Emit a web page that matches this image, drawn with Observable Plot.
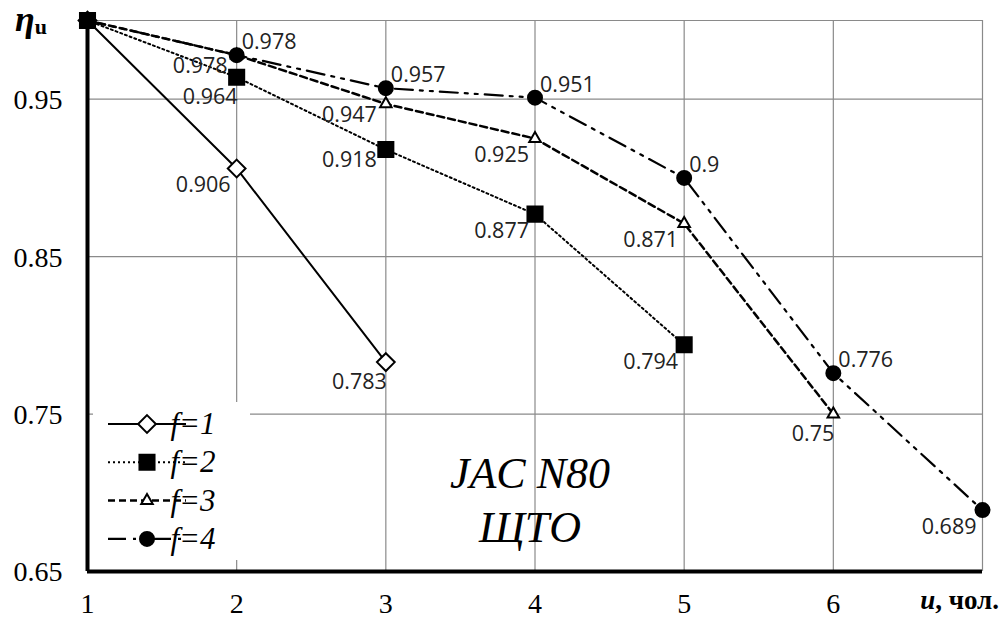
<!DOCTYPE html>
<html><head><meta charset="utf-8">
<script src="https://cdn.jsdelivr.net/npm/d3@7"></script>
<script src="https://cdn.jsdelivr.net/npm/@observablehq/plot@0.6"></script>
<style>body{margin:0;background:#fff} #chart{position:relative;width:1001px;height:619px}</style>
</head><body><div id="chart"></div>
<script>
// ---- data ----
const uValues = [1, 2, 3, 4, 5, 6, 7];
const f1 = [1, 0.906, 0.783];
const f2 = [1, 0.964, 0.918, 0.877, 0.794];
const f3 = [1, 0.978, 0.947, 0.925, 0.871, 0.75];
const f4 = [1, 0.978, 0.957, 0.951, 0.9, 0.776, 0.689];
const seriesNames = ["f=1", "f=2", "f=3", "f=4"];
const yTicks = [0.65, 0.75, 0.85, 0.95];
const yTickLabels = ["0.65", "0.75", "0.85", "0.95"];
const xTicks = [1, 2, 3, 4, 5, 6];
const xTickLabels = ["1", "2", "3", "4", "5", "6"];
const gridY = [0.75, 0.85, 0.95, 1.0];
const gridX = [2, 3, 4, 5, 6, 7];
// label placement class per point (null = no label)
const place1 = [null, "BL", "B"];
const place2 = [null, "B", "L", "BL", "BL"];
const place3 = [null, "L", "L", "BL", "BL", "B"];
const place4 = [null, "AR", "AR", "AR", "AR", "AR", "BL"];
const titleLines = ["JAC N80", "ЩТО"];

// ---- styles ----
const styles = {
  "f=1": {dash: null, width: 2, symbol: "diamond2", r: 8, fill: "white"},
  "f=2": {dash: "2,3", width: 2, symbol: "square", r: 8.5, fill: "black"},
  "f=3": {dash: "7,4", width: 2.5, symbol: "triangle2", r: 5.5, fill: "white"},
  "f=4": {dash: "18,7,3,7,3,7", width: 2.2, symbol: "circle", r: 7, fill: "black"}
};

const all = [f1, f2, f3, f4];
const places = [place1, place2, place3, place4];
const rows = [];
all.forEach((vals, i) => vals.forEach((v, j) => rows.push({u: uValues[j], eta: v, s: seriesNames[i], place: places[i][j]})));

const serif = "'Liberation Serif', 'Times New Roman', 'DejaVu Serif', serif";
const marks = [
  Plot.ruleY(gridY, {stroke: "#8a8a8a", strokeWidth: 1.2}),
  Plot.ruleX(gridX, {y1: 0.65, y2: 1.0, stroke: "#8a8a8a", strokeWidth: 1.2}),
];
for (const name of seriesNames) {
  const st = styles[name];
  const d = rows.filter(r => r.s === name);
  marks.push(Plot.line(d, {x: "u", y: "eta", stroke: "black", strokeWidth: st.width, strokeDasharray: st.dash}));
}
for (const name of seriesNames) {
  const st = styles[name];
  const d = rows.filter(r => r.s === name);
  marks.push(Plot.dot(d, {x: "u", y: "eta", symbol: () => st.symbol, r: st.r, fill: st.fill, stroke: "black", strokeWidth: 2}));
}
const labelFont = {fontFamily: "'Open Sans', sans-serif", fontSize: 21.5, fill: "#222"};
marks.push(
  Plot.text(rows.filter(r => r.place === "BL"), {x: "u", y: "eta", text: d => String(d.eta), textAnchor: "end", dx: -6, dy: 17, ...labelFont}),
  Plot.text(rows.filter(r => r.place === "B"), {x: "u", y: "eta", text: d => String(d.eta), textAnchor: "end", dx: 1, dy: 20, ...labelFont}),
  Plot.text(rows.filter(r => r.place === "L"), {x: "u", y: "eta", text: d => String(d.eta), textAnchor: "end", dx: -9, dy: 11, ...labelFont}),
  Plot.text(rows.filter(r => r.place === "AR"), {x: "u", y: "eta", text: d => String(d.eta), textAnchor: "start", dx: 5, dy: -13, ...labelFont}),
  Plot.ruleX([1], {y1: 0.65, y2: 1.0, stroke: "black", strokeWidth: 4}),
  Plot.ruleY([0.65], {x1: 1, x2: 7, stroke: "black", strokeWidth: 4}),
  Plot.text(xTicks, {x: d => d, y: 0.65, text: (d, i) => xTickLabels[i], dy: 33, fontFamily: serif, fontSize: 28, fill: "black"}),
  Plot.text(yTicks, {y: d => d, x: 1, text: (d, i) => yTickLabels[i], textAnchor: "end", dx: -25, dy: 1, fontFamily: serif, fontSize: 28, fill: "black"})
);

const chart = Plot.plot({
  width: 1001, height: 619,
  marginLeft: 87, marginRight: 19, marginTop: 20, marginBottom: 48,
  x: {domain: [1, 7], axis: null},
  y: {domain: [0.65, 1.0], axis: null},
  style: {fontFamily: serif, color: "black", background: "white", overflow: "visible"},
  marks
});
document.getElementById("chart").appendChild(chart);

// ---- overlay: legend, axis titles, annotation ----
const svg = d3.select(chart);
const lg = svg.append("g");
lg.append("rect").attr("x", 93).attr("y", 402).attr("width", 157).attr("height", 158).attr("fill", "white");
const symMap = {diamond2: d3.symbolDiamond2, square: d3.symbolSquare, triangle2: d3.symbolTriangle2, circle: d3.symbolCircle};
seriesNames.forEach((name, i) => {
  const st = styles[name];
  const y = 424 + i * 38.3;
  lg.append("line").attr("x1", 108).attr("x2", 186).attr("y1", y).attr("y2", y)
    .attr("stroke", "black").attr("stroke-width", st.width).attr("stroke-dasharray", st.dash);
  lg.append("path").attr("transform", `translate(147,${y})`)
    .attr("d", d3.symbol(symMap[st.symbol], Math.PI * st.r * st.r)())
    .attr("fill", st.fill).attr("stroke", "black").attr("stroke-width", 2);
  lg.append("text").attr("x", 193).attr("y", y + 10)
    .style("font-family", serif).attr("font-size", 31).attr("font-style", "italic").text(name);
});
const yl = svg.append("text").attr("x", 31).attr("y", 31).style("font-family", serif).attr("font-weight", "bold");
yl.append("tspan").attr("font-size", 36).attr("font-style", "italic").text("η");
yl.append("tspan").attr("font-size", 22).attr("dy", 3).text("u");
const xl = svg.append("text").attr("x", 999).attr("y", 609).attr("text-anchor", "end").style("font-family", serif).attr("font-weight", "bold").attr("font-size", 27);
xl.append("tspan").attr("font-style", "italic").text("u");
xl.append("tspan").text(", чол.");
titleLines.forEach((line, i) => {
  svg.append("text").attr("x", 530).attr("y", 488 + i * 54).attr("text-anchor", "middle")
    .style("font-family", serif).attr("font-style", "italic").attr("font-size", 44).text(line);
});
</script>
</body></html>
